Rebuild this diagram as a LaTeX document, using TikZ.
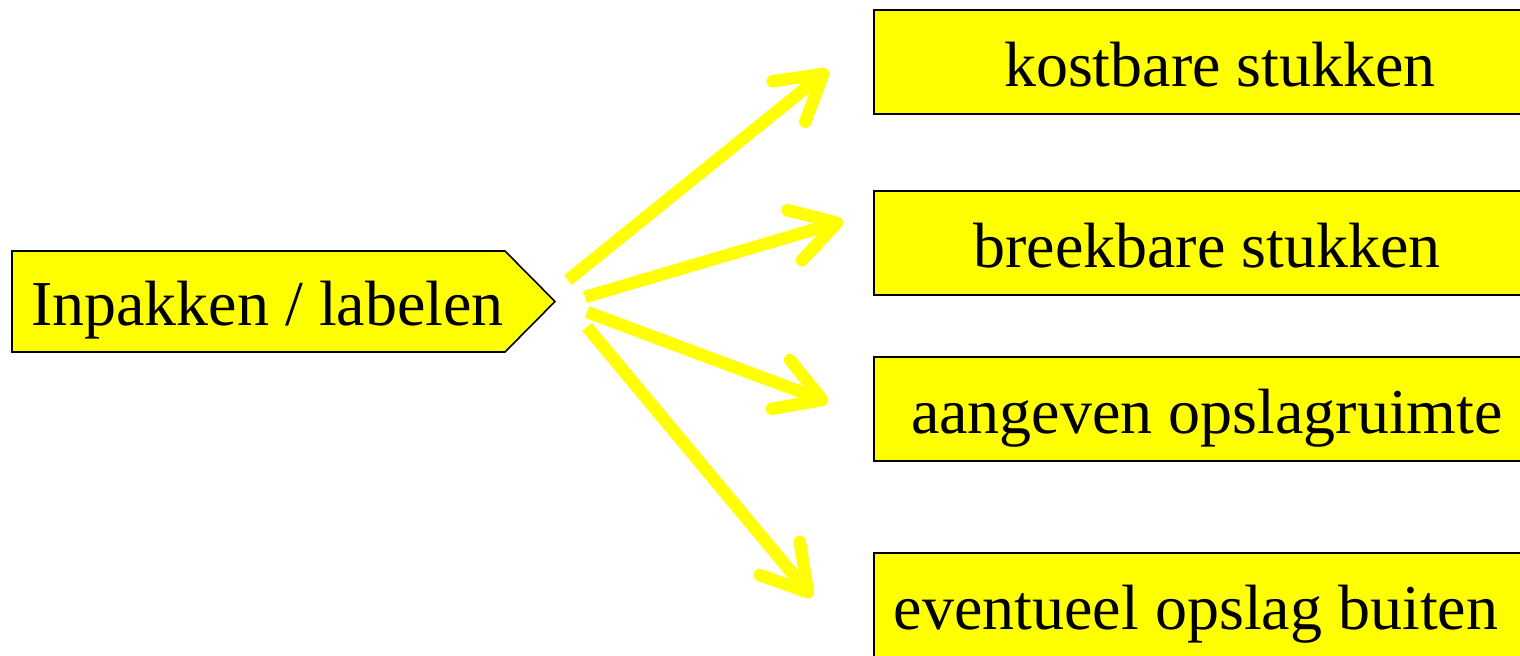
\documentclass[tikz,border=0pt]{standalone}
\usepackage{fontspec}
\setmainfont{Liberation Serif}
\usetikzlibrary{arrows.meta}
\definecolor{geel}{RGB}{255,255,0}

\begin{document}
\begin{tikzpicture}[x=0.5pt,y=-0.5pt,
  tekst/.style={inner sep=0pt,text height=24pt,text depth=0pt,font=\fontsize{32}{38}\selectfont},
  blok/.style={tekst,draw=black,line width=0.8pt,fill=geel,minimum width=333pt,minimum height=52pt},
  pijl/.style={draw=geel,line width=6.2pt,-{Straight Barb[length=22pt,width=26pt,round]}}]

\useasboundingbox (0,0) rectangle (1520,655);
\clip (0,0) rectangle (1520,655);

\coordinate (s1) at (568,280);
\coordinate (s2) at (585,297);
\coordinate (s3) at (587,312);
\coordinate (s4) at (587,327);

\coordinate (t1) at (828,70);
\coordinate (t2) at (843,221);
\coordinate (t3) at (828,402);
\coordinate (t4) at (812,597);

\draw[line width=0.8pt,fill=geel] (12,251) -- (505,251) -- (555,301.5) -- (505,352) -- (12,352) -- cycle;
\node[tekst] (inpak) at (267.5,301.5) {Inpakken / labelen};

\node[blok] (kostbaar) at (1207,62) {\hspace*{13pt}kostbare stukken};
\node[blok] (breekbaar) at (1207,243) {breekbare stukken};
\node[blok] (opslag) at (1207,409) {aangeven opslagruimte};
\node[blok] (buiten) at (1207,605) {eventueel opslag buiten\hspace*{11pt}};

\draw[pijl] (s1) -- (t1);
\draw[pijl] (s2) -- (t2);
\draw[pijl] (s3) -- (t3);
\draw[pijl] (s4) -- (t4);
\end{tikzpicture}
\end{document}
